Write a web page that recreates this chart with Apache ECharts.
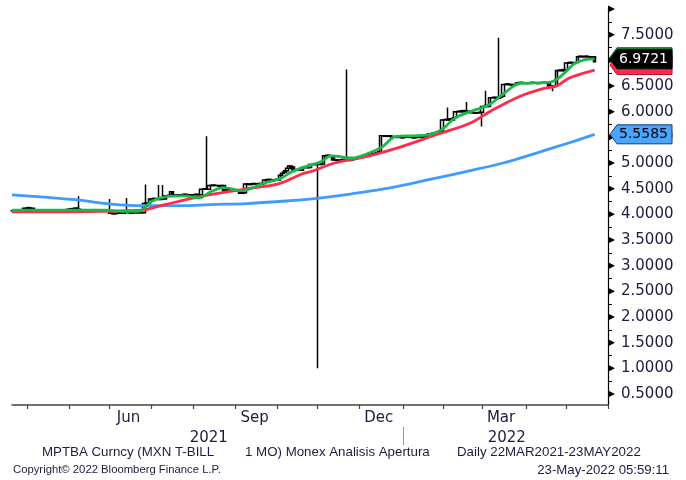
<!DOCTYPE html>
<html><head><meta charset="utf-8">
<script src="https://cdn.jsdelivr.net/npm/echarts@6/dist/echarts.min.js"></script>
<style>html,body{margin:0;padding:0;background:#fff}#c{width:686px;height:480px}</style>
</head><body><div id="c"></div>
<script>
// ---- data ----
const START_DATE = '2021-03-22';
const AXIS_END_DATE = '2022-06-01';
// daily closes, one per trading day from 22MAR2021 to 23MAY2022
const closes = [
4.07,4.07,4.08,4.07,4.07, 4.07,4.12,4.12,4.13,4.12, 4.12,4.06,4.06,4.05,4.06, 4.06,4.06,4.07,4.06,4.06,
4.05,4.06,4.06,4.06,4.07, 4.06,4.06,4.05,4.06,4.10, 4.10,4.11,4.10,4.12,4.10, 4.08,4.08,4.09,4.08,4.08,
4.07,4.08,4.08,4.09,4.08, 4.08,4.07,4.08,4.08,4.08, 4.07,4.02,4.02,4.01,4.02, 4.02,4.03,4.02,4.02,4.03,
4.03,4.03,4.02,4.03,4.03, 4.03,4.04,4.03,4.03,4.21, 4.22,4.21,4.30,4.30,4.31, 4.30,4.30,4.29,4.30,4.30,
4.36,4.36,4.37,4.44,4.38, 4.38,4.38,4.37,4.38,4.38, 4.39,4.38,4.38,4.37,4.38, 4.38,4.39,4.38,4.38,4.49,
4.49,4.50,4.49,4.56,4.56, 4.57,4.56,4.56,4.55,4.56, 4.56,4.47,4.47,4.48,4.47, 4.47,4.46,4.47,4.47,4.41,
4.41,4.42,4.59,4.59,4.58, 4.59,4.60,4.59,4.59,4.60, 4.59,4.60,4.67,4.67,4.68, 4.67,4.66,4.67,4.68,4.67,
4.76,4.80,4.82,4.85,4.90, 4.94,4.92,4.87,4.86,4.87, 4.87,4.86,4.91,4.91,4.92, 4.91,4.97,4.97,4.98,4.97,
4.97,4.97,4.98,5.14,5.14, 5.15,5.14,5.13,5.06,5.06, 5.05,5.06,5.06,5.07,5.06, 5.06,5.05,5.06,5.07,5.08,
5.09,5.10,5.11,5.12,5.13, 5.14,5.15,5.16,5.17,5.18, 5.19,5.20,5.22,5.53,5.53, 5.52,5.53,5.53,5.52,5.50,
5.50,5.51,5.50,5.50,5.49, 5.50,5.50,5.51,5.50,5.50, 5.49,5.50,5.50,5.51,5.50, 5.50,5.52,5.55,5.57,5.57,
5.58,5.57,5.56,5.60,5.62, 5.84,5.84,5.85,5.84,5.86, 5.84,5.88,6.00,6.00,6.01, 6.00,6.02,6.00,6.01,6.00,
5.98,5.98,5.97,5.98,5.98, 5.99,6.10,6.10,6.12,6.10, 6.27,6.27,6.28,6.27,6.26, 6.28,6.30,6.53,6.53,6.54,
6.53,6.52,6.53,6.53,6.56, 6.56,6.57,6.56,6.56,6.55, 6.56,6.56,6.57,6.56,6.56, 6.55,6.56,6.56,6.57,6.56,
6.56,6.50,6.50,6.49,6.50, 6.80,6.80,6.81,6.80,6.82, 6.95,6.95,6.96,6.95,6.95, 6.96,7.07,7.08,7.07,7.07,
7.08,7.07,7.07,7.06,7.07, 6.9721
];
// [trading day #, intraday high] / [trading day #, intraday low] for the long wicks
const spikeHighs = [[35,4.35],[51,4.30],[60,4.32],[70,4.58],[77,4.57],[79,4.57],[102,5.52],[175,6.82],[228,6.08],[238,6.19],[248,6.41],[255,7.44]];
const spikeLows  = [[160,1.00],[246,5.71],[283,6.40]];
// moving averages: [trading day #, value]
const maShort = [[0,4.08],[25,4.08],[50,4.08],[57,4.06],[65,4.06],[68,4.08],[73,4.25],[80,4.34],[90,4.36],[98,4.32],[104,4.44],[111,4.52],[120,4.46],[132,4.61],[140,4.69],[146,4.82],[152,4.91],[162,5.03],[167,5.14],[178,5.10],[186,5.18],[194,5.32],[201,5.52],[210,5.53],[218,5.55],[225,5.65],[232,5.88],[243,6.04],[250,6.14],[258,6.37],[266,6.55],[274,6.56],[281,6.57],[286,6.65],[290,6.78],[295,6.95],[304,7.03],[305,7.02]];
const maMid   = [[0,4.05],[25,4.05],[50,4.06],[60,4.07],[68,4.08],[78,4.17],[87,4.25],[98,4.34],[113,4.44],[125,4.51],[140,4.60],[152,4.79],[157,4.84],[169,5.00],[187,5.14],[204,5.32],[222,5.55],[240,5.78],[250,6.00],[266,6.30],[278,6.45],[285,6.50],[292,6.66],[305,6.8114]];
const maLong  = [[0,4.38],[15,4.34],[34,4.28],[52,4.20],[69,4.17],[89,4.17],[104,4.19],[123,4.21],[140,4.25],[157,4.30],[178,4.40],[194,4.49],[210,4.61],[225,4.73],[241,4.86],[257,5.00],[269,5.13],[281,5.27],[293,5.41],[305,5.5585]];
const lastClose = 6.9721, lastShort = 7.0213, lastMid = 6.8114, lastLong = 5.5585;
const monthLabels = [['2021-06-15','Jun'],['2021-09-15','Sep'],['2021-12-15','Dec'],['2022-03-15','Mar']];
const yearLabels  = [['2021-08-12','2021'],['2022-03-18','2022']];
const yearBreak   = '2022-01-03';
const yLabelValues = [0.5,1,1.5,2,2.5,3,3.5,4,4.5,5,5.5,6,6.5,7,7.5];
const yTickValues  = [0.5,0.75,1,1.25,1.5,1.75,2,2.25,2.5,2.75,3,3.25,3.5,3.75,4,4.25,4.5,4.75,5,5.25,5.5,5.75,6,6.25,6.5,6.75,7,7.25,7.5,7.75,8];
const yMajorTicks  = [0.5,1,1.5,2,2.5,3,3.5,4,4.5,5,5.5,6,6.5,7,7.5,8];
const footer1a = 'MPTBA Curncy (MXN T-BILL', footer1b = '1 MO) Monex Analisis Apertura', footer1c = 'Daily 22MAR2021-23MAY2022';
const footer2a = 'Copyright\u00A9 2022 Bloomberg Finance L.P.', footer2b = '23-May-2022 05:59:11';

// ---- build ----
const categories = [];
for (let d = new Date(START_DATE + 'T00:00:00Z'); d <= new Date(AXIS_END_DATE + 'T00:00:00Z'); d.setUTCDate(d.getUTCDate() + 1)) {
  const wd = d.getUTCDay(); if (wd === 0 || wd === 6) continue;
  categories.push(d.toISOString().slice(0, 10));
}
const idxOf = ds => categories.findIndex(c => c >= ds);
const monthStart = new Set(); for (let i = 1; i < categories.length; i++) if (categories[i].slice(5,7) !== categories[i-1].slice(5,7)) monthStart.add(i);
const monthLabelIdx = new Map(monthLabels.map(([d,t]) => [idxOf(d), t]));
const yearLabelIdx = new Map(yearLabels.map(([d,t]) => [idxOf(d), t]));
const yearBreakIdx = idxOf(yearBreak);
const hiMap = new Map(spikeHighs), loMap = new Map(spikeLows);
const ohlc = closes.map((c, i) => {
  const o = i ? closes[i-1] : c;
  let lo = Math.min(o, c), hi = Math.max(o, c);
  if (hiMap.has(i)) hi = hiMap.get(i);
  if (loMap.has(i)) lo = loMap.get(i);
  return [o, c, lo, hi];
});
const FONT = 'DejaVu Sans';
const TXT = '#1c1c40';
const W = 686, GRID_RIGHT = 78, AX_X = W - GRID_RIGHT;

const chart = echarts.init(document.getElementById('c'), null, {renderer: 'canvas'});
const lineS = (name, data, color) => ({name, type: 'line', data, symbol: 'none', smooth: 0.35, lineStyle: {color, width: 2.8}, itemStyle: {color}, z: 3, silent: true});
chart.setOption({
  animation: false,
  backgroundColor: '#fff',
  grid: {left: 12, right: GRID_RIGHT, top: 8, bottom: 75, containLabel: false},
  xAxis: [{
    type: 'category', data: categories, boundaryGap: false,
    axisLine: {show: true, lineStyle: {color: '#444', width: 1.5}},
    axisTick: {show: true, interval: i => monthStart.has(i), length: 4, lineStyle: {color: '#444', width: 1.2}},
    axisLabel: {interval: i => monthLabelIdx.has(i), formatter: (v, i) => monthLabelIdx.get(i) || '', fontFamily: FONT, fontSize: 15, color: TXT, margin: 6, hideOverlap: false},
    splitLine: {show: false}
  }, {
    type: 'category', data: categories, boundaryGap: false, position: 'bottom', offset: 22,
    axisLine: {show: false},
    axisTick: {show: true, interval: i => i === yearBreakIdx, length: 18, lineStyle: {color: '#999', width: 1}},
    axisLabel: {interval: i => yearLabelIdx.has(i), formatter: (v, i) => yearLabelIdx.get(i) || '', fontFamily: FONT, fontSize: 15, color: TXT, margin: 4, hideOverlap: false},
    splitLine: {show: false}
  }],
  yAxis: {
    type: 'value', position: 'right', min: 0.285, max: 8.02, scale: true,
    axisLine: {show: true, lineStyle: {color: '#000', width: 1.2}},
    axisTick: {show: true, customValues: yTickValues, length: 4, lineStyle: {color: '#000', width: 1}},
    axisLabel: {customValues: yLabelValues, formatter: v => v.toFixed(4), fontFamily: FONT, fontSize: 15, color: TXT, margin: 13},
    splitLine: {show: false}
  },
  series: [
    {name: 'MPTBA', type: 'candlestick', data: ohlc, barWidth: 3, z: 2, silent: true,
     itemStyle: {color: '#fff', color0: '#000', borderColor: '#000', borderColor0: '#000', borderWidth: 1.5}},
    lineS('long', maLong, '#3e9cff'),
    lineS('mid', maMid, '#ff2b4a'),
    lineS('short', maShort, '#19b84a')
  ]
});

// ---- decorations: arrow ticks, price tags, footer ----
const yOf = v => chart.convertToPixel({yAxisIndex: 0}, v);
const g = [];
yMajorTicks.forEach(v => { const y = yOf(v); g.push({type: 'polygon', z: 100, shape: {points: [[AX_X, y-3.5], [AX_X, y+3.5], [AX_X+7, y]]}, style: {fill: '#000'}, silent: true}); });
let zTag = 110;
function tag(yc, fill, stroke, text, textColor) {
  const x0 = AX_X + 2, h = 9.5, xr = 672;
  g.push({type: 'polygon', z: zTag++, shape: {points: [[x0, yc], [x0+7, yc-h], [xr, yc-h], [xr, yc+h], [x0+7, yc+h]]}, style: {fill, stroke, lineWidth: 1}, silent: true});
  g.push({type: 'text', z: zTag++, x: 619, y: yc+0.5, style: {text, fill: textColor, font: '14px "DejaVu Sans"', textVerticalAlign: 'middle', textAlign: 'left'}, silent: true});
}
tag(yOf(lastShort) - 2, '#1a8a3a', '#0d5a22', lastShort.toFixed(4), '#fff');
tag(yOf(lastMid) - 5, '#ff2b4a', '#b0102a', lastMid.toFixed(4), '#fff');
tag(yOf(lastClose) - 2.5, '#000', '#000', lastClose.toFixed(4), '#fff');
tag(yOf(lastLong), '#4aa5ff', '#123a70', lastLong.toFixed(4), '#000');
const ft = (x, y, text, size, align) => g.push({type: 'text', z: 100, x, y, style: {text, fill: TXT, font: size + 'px "Liberation Sans"', textAlign: align || 'left', textVerticalAlign: 'middle'}, silent: true});
ft(42, 452, footer1a, 13.3); ft(245, 452, footer1b, 13.3); ft(457, 452, footer1c, 13.3);
ft(13, 470, footer2a, 11.3); ft(669, 470, footer2b, 13.2, 'right');
chart.setOption({graphic: {elements: g, z: 100}});
</script></body></html>
